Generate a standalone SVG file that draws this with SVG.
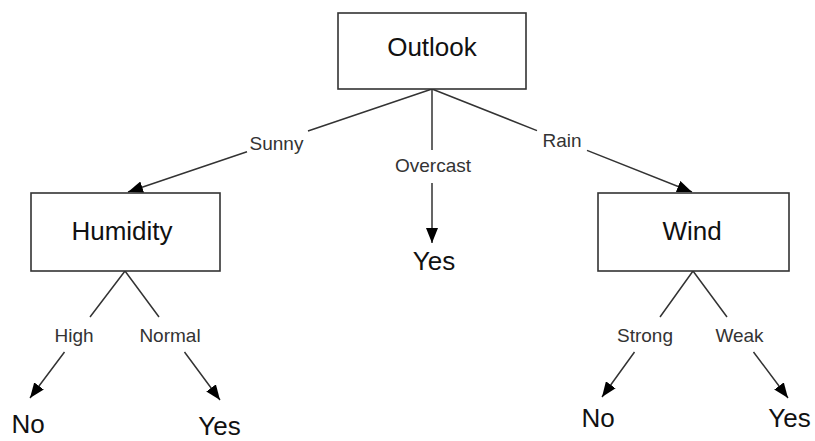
<svg xmlns="http://www.w3.org/2000/svg" width="815" height="441" viewBox="0 0 815 441">
<style>
.box{fill:#fff;stroke:#333;stroke-width:1.6}
.node{font-family:"Liberation Sans",Arial,sans-serif;font-size:26px;fill:#111;text-anchor:middle}
.lbl{font-family:"Liberation Sans",Arial,sans-serif;font-size:19px;fill:#333;text-anchor:middle}
.edge{fill:none;stroke:#333;stroke-width:1.5}
</style>
<defs>
<marker id="arr" markerUnits="userSpaceOnUse" markerWidth="16" markerHeight="12" refX="15" refY="6" orient="auto">
<path d="M0,0 L15,6 L0,12 Z" fill="#000"/>
</marker>
</defs>
<rect width="815" height="441" fill="#fff"/>
<g id="connectors">
<path class="edge" d="M432,89 L308,131 M247,151.7 L128,192" marker-end="url(#arr)"/>
<path class="edge" d="M432,89 L432,150 M432,183 L432,243" marker-end="url(#arr)"/>
<path class="edge" d="M432,89 L537,130.6 M587,150.4 L692,192" marker-end="url(#arr)"/>
<path class="edge" d="M125,271 L90,317 M64.5,352 L30,398" marker-end="url(#arr)"/>
<path class="edge" d="M125,271 L159,317 M184.5,352 L220,400" marker-end="url(#arr)"/>
<path class="edge" d="M693,271 L660,317 M634.5,352 L602,397" marker-end="url(#arr)"/>
<path class="edge" d="M693,271 L727,317 M753.5,352 L788,398" marker-end="url(#arr)"/>
<text class="lbl" x="276.5" y="150">Sunny</text>
<text class="lbl" x="433" y="172">Overcast</text>
<text class="lbl" x="562" y="147">Rain</text>
<text class="lbl" x="74" y="342">High</text>
<text class="lbl" x="170" y="342">Normal</text>
<text class="lbl" x="645" y="342">Strong</text>
<text class="lbl" x="739.5" y="342">Weak</text>
</g>
<g id="outlook"><rect class="box" x="338" y="13" width="188" height="76"/><text class="node" x="432" y="56">Outlook</text></g>
<g id="humidity"><rect class="box" x="31" y="193" width="189" height="78"/><text class="node" x="122" y="240">Humidity</text></g>
<g id="wind"><rect class="box" x="598" y="193" width="191" height="78"/><text class="node" x="692" y="240">Wind</text></g>
<g id="yes-overcast"><text class="node" x="434" y="270">Yes</text></g>
<g id="no-high"><text class="node" x="28" y="433">No</text></g>
<g id="yes-normal"><text class="node" x="219.5" y="435">Yes</text></g>
<g id="no-strong"><text class="node" x="598" y="427">No</text></g>
<g id="yes-weak"><text class="node" x="789.5" y="427">Yes</text></g>
</svg>
